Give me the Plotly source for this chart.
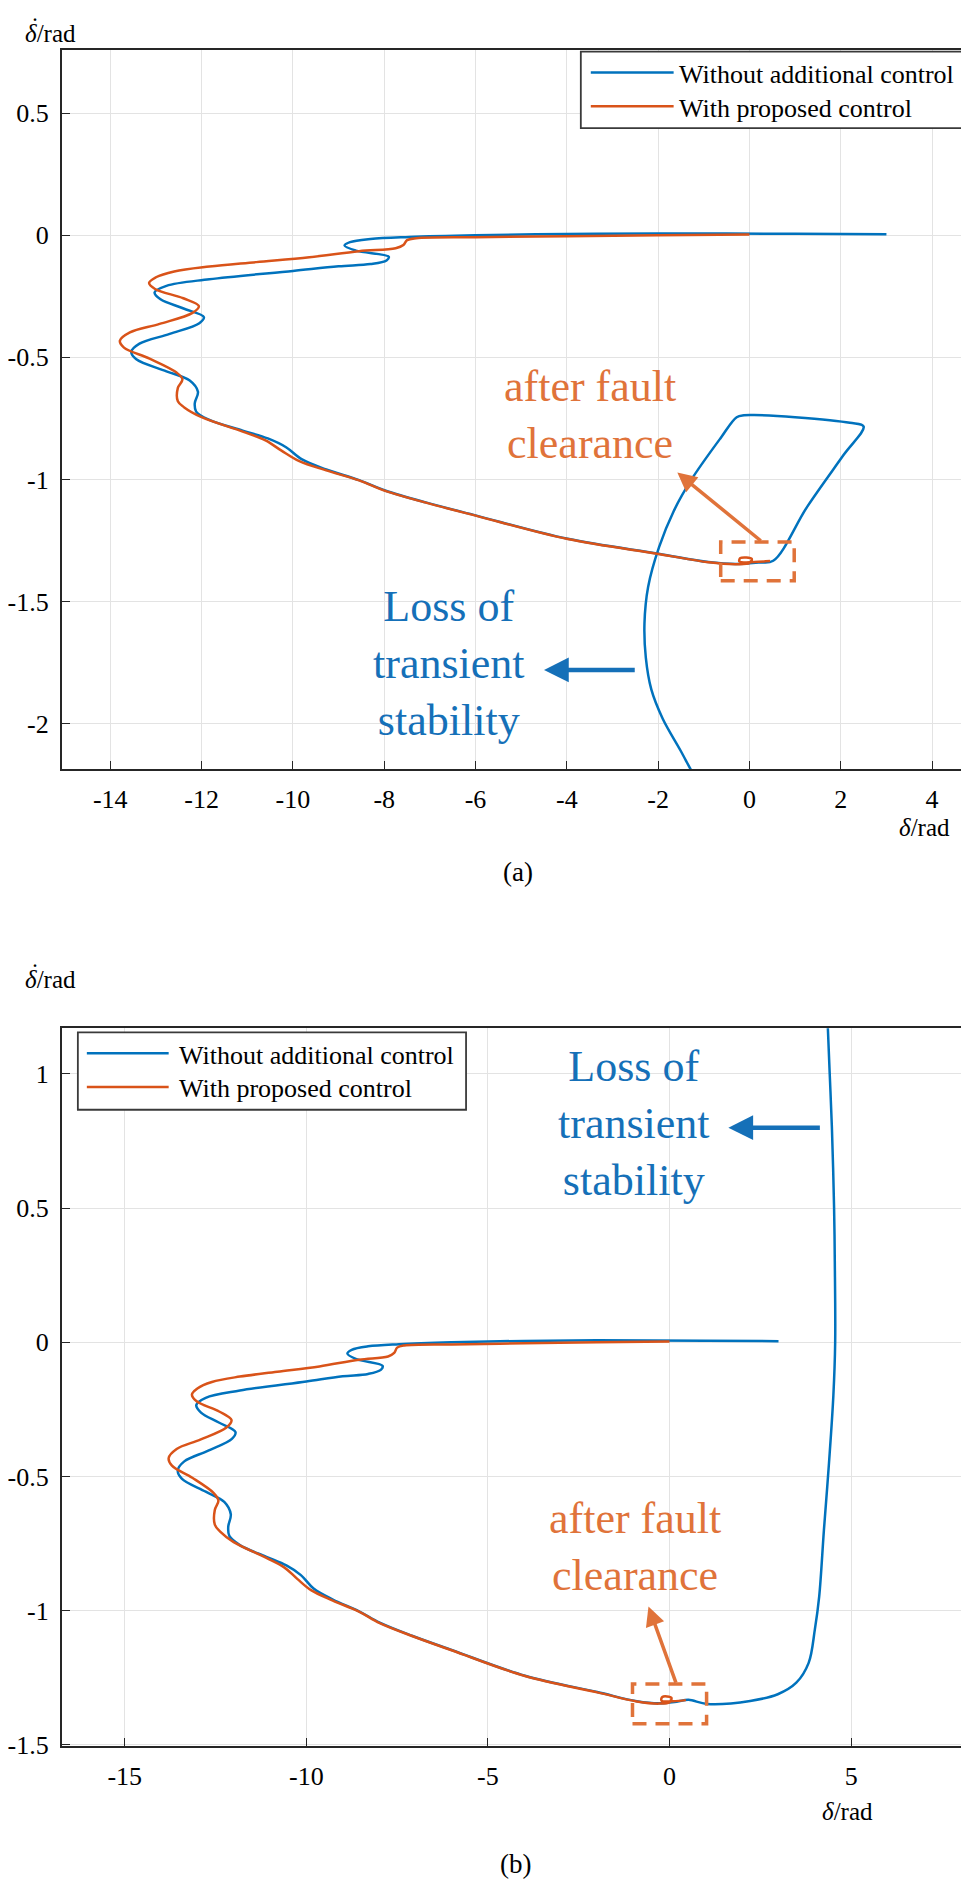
import plotly.graph_objects as go

W, H = 969, 1887

# ---------------- data ----------------
series_names = ["Without additional control", "With proposed control"]

# trajectory with proposed control (same in both panels)
with_x = [0.0, -2.0, -4.0, -6.0, -7.3, -7.5, -7.58, -7.75, -8.55, -9.64, -10.8, -11.83,
          -12.6, -13.0, -13.15, -13.02, -12.4, -12.06, -12.2, -12.92, -13.57, -13.79,
          -13.7, -13.14, -12.55, -12.42, -12.52, -12.52, -12.38, -12.0, -11.1, -10.6,
          -10.25, -9.86, -9.27, -8.55, -7.98, -7.09, -5.98, -3.98, -1.99, -0.9, -0.3,
          0.0, 0.05, -0.2, -0.22, 0.1, 0.45]
with_y = [0.003, 0.0, -0.004, -0.008, -0.012, -0.02, -0.04, -0.053, -0.065, -0.09, -0.11,
          -0.128, -0.148, -0.172, -0.195, -0.22, -0.258, -0.29, -0.318, -0.363, -0.398,
          -0.432, -0.46, -0.505, -0.562, -0.59, -0.625, -0.68, -0.705, -0.745, -0.804,
          -0.84, -0.882, -0.925, -0.963, -1.004, -1.047, -1.095, -1.149, -1.244, -1.305,
          -1.339, -1.347, -1.342, -1.325, -1.322, -1.336, -1.338, -1.334]

# trajectory without additional control, up to fault clearance (same in both panels)
without_pre_x = [3.0, 1.0, -2.0, -4.0, -6.0, -7.45, -8.3, -8.75, -8.87, -8.62, -7.9, -7.95,
                 -8.3, -9.0, -10.0, -11.83, -12.77, -13.03, -12.9, -12.41, -11.95, -12.05,
                 -12.7, -13.36, -13.54, -13.43, -12.77, -12.26, -12.08, -12.15, -12.12,
                 -11.83, -11.1, -10.55, -10.15, -9.8, -9.27, -8.55, -7.98, -7.09, -5.98,
                 -3.98, -1.99, -0.9, -0.3, 0.2, 0.52]
without_pre_y = [0.004, 0.006, 0.007, 0.005, 0.0, -0.007, -0.015, -0.028, -0.042, -0.063,
                 -0.088, -0.103, -0.118, -0.127, -0.146, -0.18, -0.207, -0.234, -0.262,
                 -0.299, -0.335, -0.36, -0.404, -0.444, -0.478, -0.508, -0.557, -0.595,
                 -0.641, -0.688, -0.722, -0.756, -0.8, -0.832, -0.868, -0.918, -0.959,
                 -1.003, -1.045, -1.094, -1.148, -1.243, -1.304, -1.338, -1.346, -1.34,
                 -1.333]

# panel (a): continuation after clearance
without_post_a_x = [1.27, 2.06, 2.5, 2.2, 1.0, 0.1, -0.12, -0.28, -0.63,
                    -1.27, -1.66, -1.98, -2.22, -2.3, -2.27, -2.15, -1.9, -1.51, -1.25, -1.0]
without_post_a_y = [-1.11, -0.9, -0.783, -0.768, -0.745, -0.736,
                    -0.737, -0.745, -0.83, -1.0, -1.13, -1.277, -1.44, -1.59, -1.73, -1.86,
                    -1.98, -2.11, -2.2, -2.28]

# panel (b): continuation after clearance
without_post_b_x = [1.03, 2.22, 2.98, 3.49, 3.83, 4.0, 4.12, 4.25, 4.39, 4.51, 4.56, 4.55,
                    4.53, 4.47, 4.41, 4.35]
without_post_b_y = [-1.348, -1.337, -1.312, -1.269, -1.195, -1.071, -0.948, -0.7, -0.45,
                    -0.2, 0.0, 0.3, 0.5, 0.8, 1.0, 1.2]

top_xticks = [-14, -12, -10, -8, -6, -4, -2, 0, 2, 4]
top_xlabels = ["-14", "-12", "-10", "-8", "-6", "-4", "-2", "0", "2", "4"]
top_yticks = [0.5, 0, -0.5, -1, -1.5, -2]
top_ylabels = ["0.5", "0", "-0.5", "-1", "-1.5", "-2"]
bot_xticks = [-15, -10, -5, 0, 5]
bot_xlabels = ["-15", "-10", "-5", "0", "5"]
bot_yticks = [1, 0.5, 0, -0.5, -1, -1.5]
bot_ylabels = ["1", "0.5", "0", "-0.5", "-1", "-1.5"]

# ---------------- style ----------------
BLUE = "#0072BD"
ORANGE = "#D95319"
TXT_BLUE = "#1570B8"
TXT_ORANGE = "#E0733A"
FONT = "Liberation Serif"


def pxx(v):
    return v / W


def pxy(v):
    return 1 - v / H


fig = go.Figure()

line_a = dict(width=2.5, shape="spline", smoothing=1.0)
# panel (a)
fig.add_trace(go.Scatter(x=without_pre_x + without_post_a_x, y=without_pre_y + without_post_a_y,
                         mode="lines", name=series_names[0], xaxis="x", yaxis="y",
                         line=dict(color=BLUE, **line_a)))
fig.add_trace(go.Scatter(x=with_x, y=with_y, mode="lines", name=series_names[1],
                         xaxis="x", yaxis="y", line=dict(color=ORANGE, **line_a)))
# panel (b)
fig.add_trace(go.Scatter(x=without_pre_x + without_post_b_x, y=without_pre_y + without_post_b_y,
                         mode="lines", name=series_names[0], xaxis="x2", yaxis="y2",
                         line=dict(color=BLUE, **line_a)))
fig.add_trace(go.Scatter(x=with_x, y=with_y, mode="lines", name=series_names[1],
                         xaxis="x2", yaxis="y2", line=dict(color=ORANGE, **line_a)))

axis_common = dict(showline=True, mirror=True, linecolor="#262626", linewidth=1.8,
                   ticks="inside", ticklen=8, tickwidth=1.2, tickcolor="#262626",
                   showgrid=True, gridcolor="#E3E3E3", gridwidth=1, zeroline=False,
                   tickfont=dict(family=FONT, size=26, color="black"),
                   ticklabelstandoff=6)

xdom = [pxx(52), pxx(967)]
fig.update_layout(
    width=W, height=H, margin=dict(l=0, r=0, t=0, b=0),
    paper_bgcolor="white", plot_bgcolor="white", showlegend=False,
    font=dict(family=FONT),
    xaxis=dict(domain=xdom, range=[-15.06, 4.94], anchor="y", tickmode="array",
               tickvals=top_xticks, ticktext=top_xlabels, **axis_common),
    yaxis=dict(domain=[pxy(767), pxy(42)], range=[-2.187, 0.760], anchor="x",
               tickmode="array", tickvals=top_yticks, ticktext=top_ylabels, **axis_common),
    xaxis2=dict(domain=xdom, range=[-16.73, 8.41], anchor="y2", tickmode="array",
                tickvals=bot_xticks, ticktext=bot_xlabels, **axis_common),
    yaxis2=dict(domain=[pxy(1751), pxy(1028)], range=[-1.505, 1.170], anchor="x2",
                tickmode="array", tickvals=bot_yticks, ticktext=bot_ylabels, **axis_common),
)

ann = []
shapes = []

# axis labels and panel captions
# y label: delta with a dot above it (time derivative), written as one two-line text
ylab = ("\u00a0\u00a0<b>.</b><br>"
        "<span style='font-size:25px'><i>\u03b4</i>/rad</span>")
xlab = "<i>\u03b4</i>/rad"
lab_font = dict(family=FONT, size=25, color="black")
for yb in (41, 994):
    ann.append(dict(x=pxx(13), y=pxy(yb), xref="paper", yref="paper", text=ylab,
                    showarrow=False, xanchor="left", yanchor="bottom", align="left",
                    font=dict(family=FONT, size=16, color="black")))
ann += [
    dict(x=pxx(916), y=pxy(826), xref="paper", yref="paper", text=xlab, showarrow=False,
         xanchor="center", yanchor="middle", font=lab_font),
    dict(x=pxx(839), y=pxy(1817), xref="paper", yref="paper", text=xlab, showarrow=False,
         xanchor="center", yanchor="middle", font=lab_font),
    dict(x=pxx(509), y=pxy(870), xref="paper", yref="paper", text="(a)", showarrow=False,
         xanchor="center", yanchor="middle", font=dict(family=FONT, size=27, color="black")),
    dict(x=pxx(507), y=pxy(1870), xref="paper", yref="paper", text="(b)", showarrow=False,
         xanchor="center", yanchor="middle", font=dict(family=FONT, size=27, color="black")),
]

# in-plot annotations
big = 44
ann += [
    dict(x=-3.50, y=-0.736, xref="x", yref="y", text="after fault<br>clearance",
         showarrow=False, font=dict(family=FONT, size=big, color=TXT_ORANGE)),
    dict(x=-6.58, y=-1.755, xref="x", yref="y", text="Loss of<br>transient<br>stability",
         showarrow=False, font=dict(family=FONT, size=big, color=TXT_BLUE)),
    dict(x=-0.96, y=-0.763, xref="x2", yref="y2", text="after fault<br>clearance",
         showarrow=False, font=dict(family=FONT, size=big, color=TXT_ORANGE)),
    dict(x=-0.99, y=0.815, xref="x2", yref="y2", text="Loss of<br>transient<br>stability",
         showarrow=False, font=dict(family=FONT, size=big, color=TXT_BLUE)),
    # arrows
    dict(x=-1.58, y=-0.972, ax=0.28, ay=-1.256, xref="x", yref="y", axref="x", ayref="y",
         text="", showarrow=True, arrowhead=2, arrowsize=1.1, arrowwidth=3.5,
         arrowcolor=TXT_ORANGE),
    dict(x=-4.50, y=-1.78, ax=-2.48, ay=-1.78, xref="x", yref="y", axref="x", ayref="y",
         text="", showarrow=True, arrowhead=2, arrowsize=1.1, arrowwidth=4.5,
         arrowcolor=TXT_BLUE),
    dict(x=-0.58, y=-0.985, ax=0.19, ay=-1.274, xref="x2", yref="y2", axref="x2", ayref="y2",
         text="", showarrow=True, arrowhead=2, arrowsize=1.1, arrowwidth=3.5,
         arrowcolor=TXT_ORANGE),
    dict(x=1.62, y=0.80, ax=4.18, ay=0.80, xref="x2", yref="y2", axref="x2", ayref="y2",
         text="", showarrow=True, arrowhead=2, arrowsize=1.1, arrowwidth=4.5,
         arrowcolor=TXT_BLUE),
]

# dashed boxes
shapes += [
    dict(type="rect", xref="x", yref="y", x0=-0.63, x1=0.98, y0=-1.415, y1=-1.256,
         line=dict(color=TXT_ORANGE, width=3.5, dash="14px,9px")),
    dict(type="rect", xref="x2", yref="y2", x0=-1.02, x1=1.02, y0=-1.422, y1=-1.274,
         line=dict(color=TXT_ORANGE, width=3.5, dash="14px,9px")),
]

# legends (drawn as boxes, sample lines and text)
legend_geoms = [
    dict(box=(572, 44, 960, 121), rows=(65, 99), line=(582, 665), text=668),
    dict(box=(68, 1032, 457, 1110), rows=(1053, 1087), line=(77, 159), text=167),
]
for g in legend_geoms:
    x0, y0, x1, y1 = g["box"]
    shapes.append(dict(type="rect", xref="paper", yref="paper", x0=pxx(x0), x1=pxx(x1),
                       y0=pxy(y1), y1=pxy(y0), fillcolor="white",
                       line=dict(color="#3a3a3a", width=1.8), layer="above"))
    for name, col, ry in zip(series_names, [BLUE, ORANGE], g["rows"]):
        shapes.append(dict(type="line", xref="paper", yref="paper",
                           x0=pxx(g["line"][0]), x1=pxx(g["line"][1]),
                           y0=pxy(ry), y1=pxy(ry), line=dict(color=col, width=2.5)))
        ann.append(dict(x=pxx(g["text"]), y=pxy(ry + 2), xref="paper", yref="paper",
                        text=name, showarrow=False, xanchor="left", yanchor="middle",
                        font=dict(family=FONT, size=26, color="black")))

fig.update_layout(annotations=ann, shapes=shapes)
fig.write_html("out.html")
